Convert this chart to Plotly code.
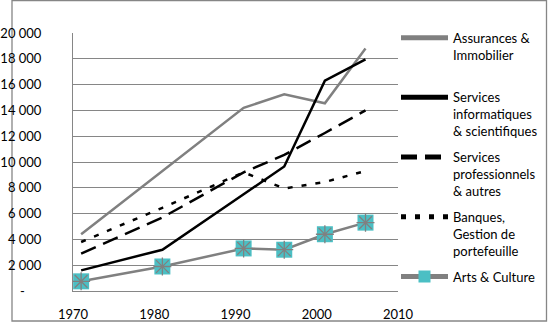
import plotly.graph_objects as go

years = [1971, 1981, 1991, 1996, 2001, 2006]
assurances = [4400, 9300, 14200, 15250, 14550, 18800]
informatiques = [1600, 3200, 7500, 9650, 16300, 17950]
professionnels = [2900, 5700, 9200, 10550, 12250, 14000]
banques = [3800, 6450, 9200, 7950, 8450, 9300]
arts = [750, 1900, 3300, 3200, 4400, 5300]

names = ["Assurances &<br>Immobilier<br> ",
         "Services<br>informatiques<br>& scientifiques",
         "Services<br>professionnels<br>& autres",
         "Banques,<br>Gestion de<br>portefeuille",
         "Arts & Culture"]

y_ticks = [0, 2000, 4000, 6000, 8000, 10000, 12000, 14000, 16000, 18000, 20000]
y_text = ["-\u00a0\u00a0\u00a0\u00a0\u00a0"] + [f"{v:,}".replace(",", " ") for v in y_ticks[1:]]
x_ticks = [1970, 1980, 1990, 2000, 2010]

W, H = 548, 322
L, R, T, B = 73, 398, 33, 291
GRAY = "#808080"
TEAL = "#4BBFC4"
FONT = "Lato"

fig = go.Figure()
fig.add_trace(go.Scatter(x=years, y=assurances, name=names[0], mode="lines",
                         line=dict(color=GRAY, width=2.5), legendgroup="a"))
fig.add_trace(go.Scatter(x=years, y=informatiques, name=names[1], mode="lines",
                         line=dict(color="black", width=2.5), legendgroup="b"))
fig.add_trace(go.Scatter(x=years, y=professionnels, name=names[2], mode="lines",
                         line=dict(color="black", width=2.5, dash="16px,8px"), legendgroup="c"))
fig.add_trace(go.Scatter(x=years, y=banques, name=names[3], mode="lines",
                         line=dict(color="black", width=2.5, dash="5px,9px"), legendgroup="d"))
fig.add_trace(go.Scatter(x=years, y=arts, name=names[4], mode="lines+markers",
                         line=dict(color=GRAY, width=2.5),
                         marker=dict(symbol="square", size=16, color=TEAL, line=dict(width=0)),
                         legendgroup="e"))
fig.add_trace(go.Scatter(x=years, y=arts, mode="markers", showlegend=False,
                         marker=dict(symbol="asterisk-open", size=15, color=GRAY,
                                     line=dict(color=GRAY, width=1.3)),
                         legendgroup="e", hoverinfo="skip"))

def px_x(p):
    return (p - L) / (R - L)

def px_y(p):
    return (H - p) / H

fig.add_shape(type="rect", xref="paper", yref="paper",
              x0=px_x(12), x1=px_x(546.5), y0=px_y(321), y1=px_y(0.5),
              line=dict(color="#868686", width=1.3), fillcolor="rgba(0,0,0,0)", layer="below")

fig.update_layout(
    width=W, height=H,
    margin=dict(l=L, r=W - R, t=0, b=0, pad=0, autoexpand=False),
    paper_bgcolor="white", plot_bgcolor="white",
    font=dict(family=FONT, size=13, color="black"),
    showlegend=True,
    legend=dict(x=1.0 - 2 / (R - L), xanchor="left", y=px_y(22.7), yanchor="top",
                font=dict(family=FONT, size=13, color="black"),
                valign="top", itemwidth=47, tracegroupgap=6, itemsizing="constant",
                traceorder="grouped", bgcolor="rgba(0,0,0,0)", borderwidth=0),
    xaxis=dict(range=[1970, 2010], tickvals=x_ticks, ticktext=[str(v) for v in x_ticks],
               showgrid=False, zeroline=False, showline=True, linecolor="#868686",
               linewidth=1, ticks="", ticklabelstandoff=11, automargin=False,
               tickfont=dict(family=FONT, size=13)),
    yaxis=dict(range=[0, 20000], tickvals=y_ticks, ticktext=y_text,
               domain=[px_y(B), px_y(T)],
               showgrid=True, gridcolor="#868686", gridwidth=1, zeroline=False,
               showline=True, linecolor="#868686", linewidth=1, ticks="",
               ticklabelstandoff=28, automargin=False,
               tickfont=dict(family=FONT, size=13)),
)

fig.write_html("out.html")
